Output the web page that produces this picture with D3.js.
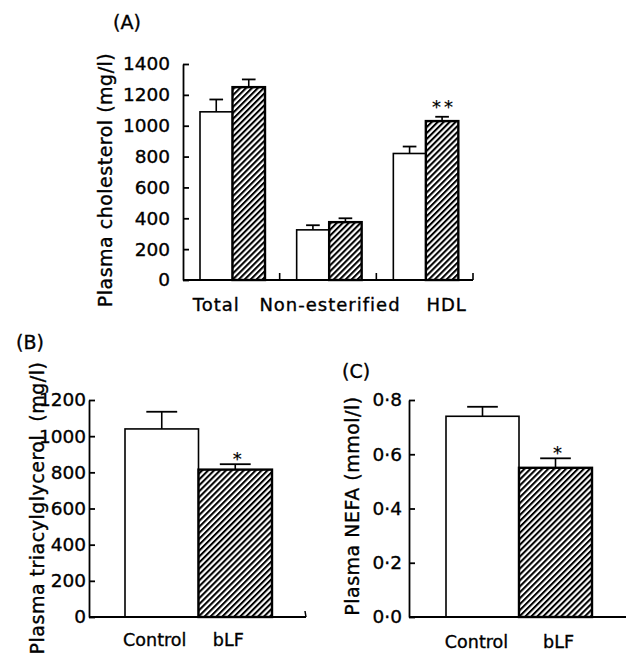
<!DOCTYPE html>
<html>
<head>
<meta charset="utf-8">
<script src="https://cdn.jsdelivr.net/npm/d3@7"></script>
<style>
  body { margin: 0; background: #fff; }
  svg { display: block; font-family: "DejaVu Sans", sans-serif; }
  svg text { stroke: #000; stroke-width: 0.35px; fill: #000; }
</style>
</head>
<body>
<svg id="chart" width="626" height="653"></svg>
<script>
// Panel A - plasma cholesterol
const cholGroups = ["Total", "Non-esterified", "HDL"];
const seriesNames = ["Control", "bLF"];
const cholControl = [1090, 325, 820];
const cholControlErr = [80, 30, 45];
const cholBLF = [1250, 375, 1030];
const cholBLFErr = [50, 25, 28];
const cholStars = ["", "", "**"];
const cholTicks = [0, 200, 400, 600, 800, 1000, 1200, 1400];

// Panel B - plasma triacylglycerol
const tagValues = [1040, 815];
const tagErr = [95, 30];
const tagStars = ["", "*"];
const tagTicks = [0, 200, 400, 600, 800, 1000, 1200];

// Panel C - plasma NEFA
const nefaValues = [0.74, 0.55];
const nefaErr = [0.035, 0.035];
const nefaStars = ["", "*"];
const nefaTicks = [0, 0.2, 0.4, 0.6, 0.8];

const svg = d3.select("#chart");

// hatch pattern for bLF bars
svg.append("defs").append("pattern")
  .attr("id", "hatch")
  .attr("patternUnits", "userSpaceOnUse")
  .attr("width", 4.2)
  .attr("height", 4.2)
  .attr("patternTransform", "rotate(45)")
  .call(p => {
    p.append("rect").attr("width", 4.2).attr("height", 4.2).attr("fill", "#fff");
    p.append("line").attr("x1", 1).attr("x2", 1).attr("y1", 0).attr("y2", 4.2)
      .attr("stroke", "#000").attr("stroke-width", 2.1);
  });

function yAxis(g, y, ticks, padding, fmt) {
  g.call(d3.axisLeft(y).tickValues(ticks).tickSizeInner(-6).tickSizeOuter(0)
      .tickPadding(padding).tickFormat(fmt || (d => d)))
    .call(a => a.selectAll("path, line").attr("stroke", "#000").attr("stroke-width", 1.8))
    .call(a => a.selectAll("text")
      .style("font-size", "18.5px")
      .style("font-family", "DejaVu Sans, sans-serif")
      .attr("fill", "#000"));
}

function drawBar(g, x, w, y, val, err, star, hatched, starGap) {
  const top = y(val);
  const errTop = y(val + err);
  const cx = x + w / 2;
  const capW = w * 0.42;
  // error bar (upper only)
  g.append("line").attr("x1", cx).attr("x2", cx).attr("y1", top).attr("y2", errTop)
    .attr("stroke", "#000").attr("stroke-width", 1.6);
  g.append("line").attr("x1", cx - capW / 2).attr("x2", cx + capW / 2)
    .attr("y1", errTop).attr("y2", errTop)
    .attr("stroke", "#000").attr("stroke-width", 1.8);
  g.append("rect")
    .attr("x", x).attr("y", top)
    .attr("width", w).attr("height", y(0) - top)
    .attr("fill", hatched ? "url(#hatch)" : "#fff")
    .attr("stroke", "#000")
    .attr("stroke-width", hatched ? 2.4 : 1.6);
  if (star) {
    g.append("text")
      .attr("x", cx + 2).attr("y", errTop + 1 - starGap)
      .attr("text-anchor", "middle")
      .style("font-size", "18px")
      .style("letter-spacing", star.length > 1 ? "3px" : "0px")
      .style("stroke-width", "0.2px")
      .text(star);
  }
}

function yLabel(x, y, text) {
  svg.append("text")
    .attr("transform", `translate(${x},${y}) rotate(-90)`)
    .attr("text-anchor", "middle")
    .style("font-size", "19px")
    .style("letter-spacing", "0.5px")
    .attr("xml:space", "preserve")
    .text(text);
}

function panelLabel(x, y, text) {
  svg.append("text").attr("x", x).attr("y", y)
    .style("font-size", "19px").text(text);
}

function catLabel(x, y, text, size, spacing) {
  svg.append("text").attr("x", x).attr("y", y)
    .attr("text-anchor", "middle")
    .style("font-size", size + "px")
    .style("letter-spacing", spacing + "px")
    .text(text);
}

// ---------- Panel A ----------
{
  const y = d3.scaleLinear().domain([0, 1400]).range([280, 64]);
  const x0 = d3.scaleBand().domain(cholGroups).range([183, 473]);
  const x1 = d3.scaleBand().domain(seriesNames).range([17, 82]);
  const g = svg.append("g");

  cholGroups.forEach((grp, i) => {
    drawBar(g, x0(grp) + x1("Control"), x1.bandwidth(), y, cholControl[i], cholControlErr[i], "", false, 0);
    drawBar(g, x0(grp) + x1("bLF"), x1.bandwidth(), y, cholBLF[i], cholBLFErr[i], cholStars[i], true, 5);
  });

  // x axis with separator ticks
  g.append("line").attr("x1", 183).attr("x2", 473).attr("y1", y(0)).attr("y2", y(0))
    .attr("stroke", "#000").attr("stroke-width", 2);
  cholGroups.forEach(grp => {
    const xs = x0(grp) + x0.bandwidth();
    g.append("line").attr("x1", xs).attr("x2", xs).attr("y1", y(0)).attr("y2", y(0) - 7)
      .attr("stroke", "#000").attr("stroke-width", 1.6);
  });

  svg.append("g").attr("transform", "translate(183,0)")
    .call(a => yAxis(a, y, cholTicks, 13));

  const labelShift = { "Total": -15, "Non-esterified": 2, "HDL": 22 };
  cholGroups.forEach(grp => catLabel(x0(grp) + x0.bandwidth() / 2 + labelShift[grp], 311, grp, 18, 1));

  yLabel(112, 180, "Plasma cholesterol (mg/l)");
  panelLabel(113, 29, "(A)");
}

// ---------- Panel B ----------
{
  const y = d3.scaleLinear().domain([0, 1200]).range([617, 400]);
  const x = d3.scaleBand().domain(seriesNames).range([125, 272]);
  const g = svg.append("g");

  seriesNames.forEach((s, i) => {
    drawBar(g, x(s), x.bandwidth(), y, tagValues[i], tagErr[i], tagStars[i], i === 1, 0);
  });

  g.append("line").attr("x1", 89).attr("x2", 306).attr("y1", y(0)).attr("y2", y(0))
    .attr("stroke", "#000").attr("stroke-width", 2);
  g.append("line").attr("x1", 306).attr("x2", 305).attr("y1", y(0)).attr("y2", y(0) - 6)
    .attr("stroke", "#000").attr("stroke-width", 1.5);

  svg.append("g").attr("transform", "translate(89,0)")
    .call(a => yAxis(a, y, tagTicks, 3));

  seriesNames.forEach(s => catLabel(x(s) + x.bandwidth() / 2 - 7, 646, s, 17.5, 0));

  yLabel(44, 508, "Plasma triacylglycerol  (mg/l)");
  panelLabel(16, 349, "(B)");
}

// ---------- Panel C ----------
{
  const y = d3.scaleLinear().domain([0, 0.8]).range([617, 400]);
  const x = d3.scaleBand().domain(seriesNames).range([446, 592]);
  const g = svg.append("g");

  seriesNames.forEach((s, i) => {
    drawBar(g, x(s), x.bandwidth(), y, nefaValues[i], nefaErr[i], nefaStars[i], i === 1, 0);
  });

  g.append("line").attr("x1", 409).attr("x2", 626).attr("y1", y(0)).attr("y2", y(0))
    .attr("stroke", "#000").attr("stroke-width", 2);

  svg.append("g").attr("transform", "translate(409,0)")
    .call(a => yAxis(a, y, nefaTicks, 7, d => d3.format(".1f")(d).replace(".", "·")));

  const shift = [-6, 3];
  seriesNames.forEach((s, i) => catLabel(x(s) + x.bandwidth() / 2 + shift[i], 648, s, 17.5, 0));

  yLabel(359, 506, "Plasma NEFA (mmol/l)");
  panelLabel(342, 378, "(C)");
}
</script>
</body>
</html>
